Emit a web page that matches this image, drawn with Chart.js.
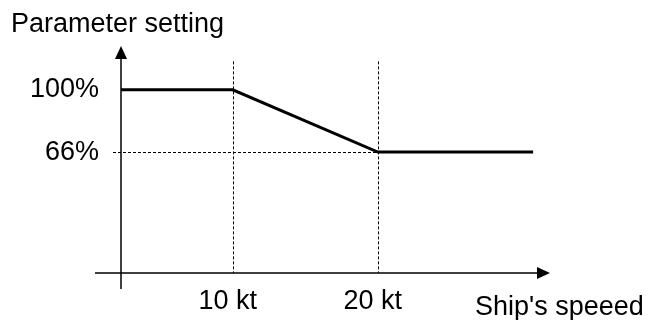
<!DOCTYPE html>
<html>
<head>
<meta charset="utf-8">
<script src="https://cdn.jsdelivr.net/npm/chart.js@4"></script>
<style>
  html, body { margin: 0; padding: 0; background: #fff; }
  #wrap { width: 648px; height: 320px; }
</style>
</head>
<body>
<div id="wrap"><canvas id="speedChart" width="648" height="320"></canvas></div>
<script>
// data
const speeds = [2.3, 10, 20, 30.7];      // kt
const settings = [100, 100, 66, 66];     // %
const xTicks = [10, 20];
const xTickLabels = ['10 kt', '20 kt'];
const yTicks = [66, 100];
const yTickLabels = ['66%', '100%'];

const FONT = 'Liberation Sans, Arial, sans-serif';

// axes with arrows, dotted guides and the two free labels
const diagramPlugin = {
  id: 'diagram',
  afterDraw(chart) {
    const c = chart.ctx;
    const x = chart.scales.x, y = chart.scales.y;
    const x0 = x.getPixelForValue(speeds[0]);
    const y0 = y.getPixelForValue(0);
    c.save();
    c.strokeStyle = '#000';
    c.fillStyle = '#000';

    // dotted guides
    c.lineWidth = 1;
    c.setLineDash([3, 2]);
    xTicks.forEach(v => {
      const px = Math.round(x.getPixelForValue(v)) + 0.5;
      c.beginPath();
      c.moveTo(px, y.getPixelForValue(115.5));
      c.lineTo(px, y0);
      c.stroke();
    });
    const py = Math.round(y.getPixelForValue(66)) + 0.5;
    c.beginPath();
    c.moveTo(x0 - 8, py);
    c.lineTo(x.getPixelForValue(20), py);
    c.stroke();
    c.setLineDash([]);

    // axes
    c.lineWidth = 1.5;
    c.beginPath();
    c.moveTo(x0, y0 + 16);
    c.lineTo(x0, 58);
    c.moveTo(x0 - 26, y0);
    c.lineTo(538, y0);
    c.stroke();
    c.beginPath();
    c.moveTo(x0, 46);
    c.lineTo(x0 - 6, 59);
    c.lineTo(x0 + 6, 59);
    c.closePath();
    c.fill();
    c.beginPath();
    c.moveTo(550, y0);
    c.lineTo(537, y0 - 6);
    c.lineTo(537, y0 + 6);
    c.closePath();
    c.fill();

    c.font = '27px ' + FONT;
    c.textAlign = 'left';
    c.textBaseline = 'alphabetic';
    c.fillText('Parameter setting', 11, 32);
    c.fillText("Ship's speeed", 475, 315);
    c.restore();
  }
};

new Chart(document.getElementById('speedChart'), {
  type: 'line',
  data: {
    datasets: [{
      data: speeds.map((s, i) => ({ x: s, y: settings[i] })),
      borderColor: '#000',
      borderWidth: 3,
      pointRadius: 0,
      tension: 0,
      fill: false
    }]
  },
  options: {
    responsive: false,
    animation: false,
    layout: { padding: { top: 44, right: 96, left: 0, bottom: 0 } },
    plugins: { legend: { display: false }, tooltip: { enabled: false }, title: { display: false } },
    scales: {
      x: {
        type: 'linear',
        min: 2.3,
        max: 32,
        grid: { display: false, drawTicks: false },
        border: { display: false },
        afterFit(scale) { scale.height = 47; },
        afterBuildTicks(scale) { scale.ticks = xTicks.map(v => ({ value: v })); },
        ticks: {
          padding: 12,
          labelOffset: -5,
          color: '#000',
          font: { family: FONT, size: 27 },
          callback: v => xTickLabels[xTicks.indexOf(v)]
        }
      },
      y: {
        min: 0,
        max: 125,
        grid: { display: false, drawTicks: false },
        border: { display: false },
        afterFit(scale) { scale.width = 121; },
        afterBuildTicks(scale) { scale.ticks = yTicks.map(v => ({ value: v })); },
        ticks: {
          padding: 22,
          color: '#000',
          font: { family: FONT, size: 27 },
          callback: v => yTickLabels[yTicks.indexOf(v)]
        }
      }
    }
  },
  plugins: [diagramPlugin]
});
</script>
</body>
</html>
